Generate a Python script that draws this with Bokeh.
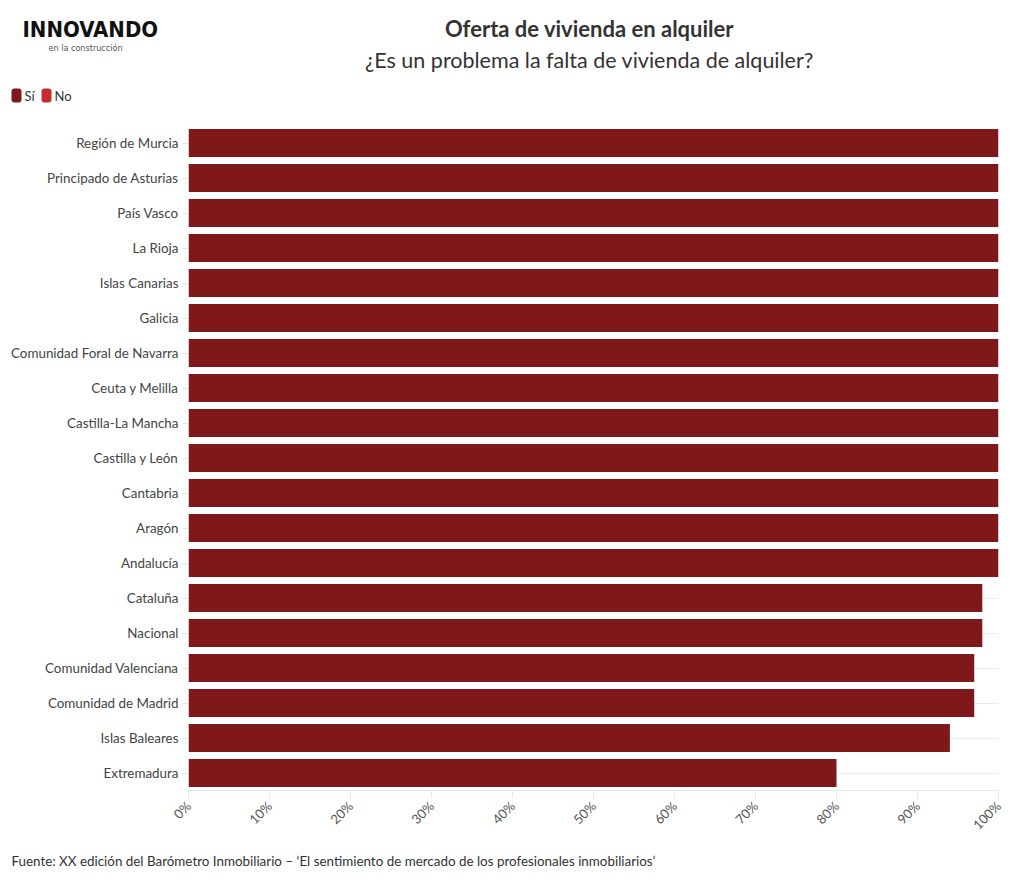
from bokeh.plotting import figure
from bokeh.layouts import column, row
from bokeh.models import (FactorRange, Range1d, FixedTicker, PrintfTickFormatter,
                          ColumnDataSource)
from bokeh.core.properties import value
from bokeh.embed import file_html
from bokeh.resources import INLINE
import math

regions = ["Región de Murcia", "Principado de Asturias", "País Vasco", "La Rioja",
           "Islas Canarias", "Galicia", "Comunidad Foral de Navarra", "Ceuta y Melilla",
           "Castilla-La Mancha", "Castilla y León", "Cantabria", "Aragón", "Andalucía",
           "Cataluña", "Nacional", "Comunidad Valenciana", "Comunidad de Madrid",
           "Islas Baleares", "Extremadura"]
si_vals = [100, 100, 100, 100, 100, 100, 100, 100, 100, 100, 100, 100, 100,
           98, 98, 97, 97, 94, 80]
no_vals = [0] * len(regions)
x_ticks = [0, 10, 20, 30, 40, 50, 60, 70, 80, 90, 100]
series_names = ["Sí", "No"]

SI_COLOR = "#7f181b"
NO_COLOR = "#c62a2e"
FONT = "Lato"
LOGO_FONT = "DejaVu Sans Condensed, Liberation Sans Narrow, sans-serif"
W = 1020

def blank(height):
    f = figure(width=W, height=height, output_backend="svg", toolbar_location=None,
               x_range=Range1d(0, W), y_range=Range1d(height, 0),
               min_border=0, min_border_left=0, min_border_right=0,
               min_border_top=0, min_border_bottom=0)
    f.axis.visible = False
    f.grid.visible = False
    f.outline_line_color = None
    return f

# ---------- header ----------
HEAD_H = 110
head = blank(HEAD_H)
head.text(x=[589], y=[28], text=["Oferta de vivienda en alquiler"],
          text_font=value(FONT), text_font_size="22px", text_font_style="bold",
          text_color="#333333", text_align="center", text_baseline="middle")
head.text(x=[589], y=[59], text=["¿Es un problema la falta de vivienda de alquiler?"],
          text_font=value(FONT), text_font_size="21.5px",
          text_color="#333333", text_align="center", text_baseline="middle")
head.text(x=[22], y=[29], text=["INNOVANDO"],
          text_font=value(LOGO_FONT), text_font_size="22px",
          text_font_style="bold", text_color="#111111",
          text_align="left", text_baseline="middle")
head.text(x=[48], y=[47], text=["en la construcción"],
          text_font=value(LOGO_FONT), text_font_size="9px",
          text_color="#555555", text_align="left", text_baseline="middle")
leg_x = [16, 46]
head.rect(x=leg_x, y=[95, 95], width=10, height=14,
          fill_color=[SI_COLOR, NO_COLOR], line_color=None, border_radius=3)
head.text(x=[x + 8 for x in leg_x], y=[95, 95], text=series_names,
          text_font=value(FONT), text_font_size="13px", text_color="#333333",
          text_align="left", text_baseline="middle")

# ---------- main chart ----------
MAIN_H = 740
src = ColumnDataSource(dict(
    region=regions, si=si_vals, no=no_vals,
    no_end=[s + n for s, n in zip(si_vals, no_vals)],
))

p = figure(width=W, height=MAIN_H, output_backend="svg", toolbar_location=None,
           y_range=FactorRange(*reversed(regions), range_padding=0),
           x_range=Range1d(0, 100),
           min_border_left=188, min_border_right=22,
           min_border_top=15, min_border_bottom=60)
p.outline_line_color = None

p.hbar(y="region", left=0, right="si", height=0.8, source=src,
       fill_color=SI_COLOR, line_color=None)
p.hbar(y="region", left="si", right="no_end", height=0.8, source=src,
       fill_color=NO_COLOR, line_color=None)

p.xgrid.grid_line_color = None
p.ygrid.grid_line_color = "#ebebeb"

p.xaxis.ticker = FixedTicker(ticks=x_ticks)
p.xaxis.formatter = PrintfTickFormatter(format="%d%%")
p.xaxis.major_label_orientation = math.pi / 4
p.xaxis.axis_line_color = "#e6e6e6"
p.xaxis.major_tick_line_color = "#e6e6e6"
p.xaxis.major_tick_out = 8
p.xaxis.major_tick_in = 0
p.xaxis.minor_tick_line_color = None
p.xaxis.major_label_text_font = FONT
p.xaxis.major_label_text_font_size = "13px"
p.xaxis.major_label_text_color = "#555555"

p.yaxis.axis_line_color = None
p.yaxis.major_tick_line_color = "#e6e6e6"
p.yaxis.major_tick_out = 6
p.yaxis.major_tick_in = 0
p.yaxis.major_label_standoff = 4
p.yaxis.major_label_text_font = FONT
p.yaxis.major_label_text_font_size = "13.4px"
p.yaxis.major_label_text_color = "#444444"

# ---------- footer ----------
FOOT_H = 30
foot = blank(FOOT_H)
foot.text(x=[11], y=[10], text=["Fuente: XX edición del Barómetro Inmobiliario – ‘El sentimiento de mercado de los profesionales inmobiliarios’"],
          text_font=value(FONT), text_font_size="13.4px", text_color="#333333",
          text_align="left", text_baseline="middle")

layout = column(head, row(p), foot, spacing=0)
open("out.html", "w").write(file_html(layout, INLINE))
